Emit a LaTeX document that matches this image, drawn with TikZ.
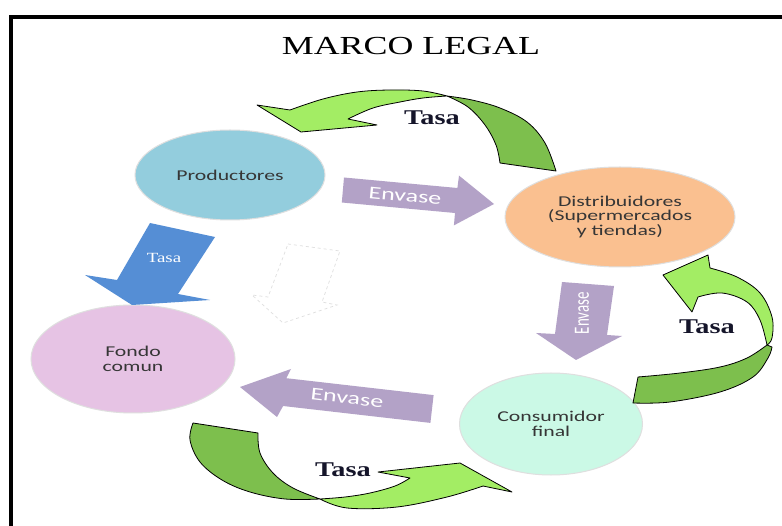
\documentclass[tikz,border=0pt]{standalone}
\usepackage{fontspec}
\setmainfont{Liberation Serif}
\newfontfamily\labfont[FakeStretch=1.45]{Carlito}
\newfontfamily\vertfont{Carlito}
\newfontfamily\titlefont[FakeStretch=1.38]{Liberation Serif}
\newfontfamily\tasafont[FakeStretch=1.35]{Liberation Serif}
\usetikzlibrary{shapes.geometric}
\definecolor{cProd}{HTML}{93CDDD}
\definecolor{cDist}{HTML}{FAC090}
\definecolor{cFondo}{HTML}{E6C3E4}
\definecolor{cCons}{HTML}{CBF9E6}
\definecolor{cPurp}{HTML}{B3A2C7}
\definecolor{cBlue}{HTML}{558ED5}
\definecolor{cLight}{HTML}{A3ED64}
\definecolor{cDark}{HTML}{7DBF4D}
\definecolor{cText}{HTML}{363636}
\definecolor{cTasa}{HTML}{15152A}
\begin{document}
\begin{tikzpicture}[x=1pt,y=-1pt,
  bubble/.style={ellipse, draw=gray!25, line width=1pt, inner sep=0pt, align=center,
    text=cText, font=\labfont\fontsize{15}{14.5}\selectfont},
  purparrow/.style={fill=cPurp},
  envlabel/.style={text=white, inner sep=0pt, font=\labfont\fontsize{18}{18}\selectfont},
  lightpart/.style={fill=cLight, draw=black, line width=0.8pt, line join=round},
  darkpart/.style={fill=cDark, draw=black, line width=0.8pt, line join=round},
  tasalabel/.style={text=cTasa, inner sep=0pt, font=\tasafont\bfseries\fontsize{21}{21}\selectfont}]
\useasboundingbox (0,0) rectangle (782,526);
\fill[white] (0,0) rectangle (782,526);
% frame
\draw[line width=4.5pt] (11,560) -- (11,17) -- (800,17);
% title
\node[inner sep=0pt, font=\titlefont\fontsize{26}{26}\selectfont] (title) at (411,46) {MARCO LEGAL};

% ellipses
\node[bubble, fill=cProd, minimum width=190pt, minimum height=90pt] (prod) at (230,175) {Productores};
\node[bubble, fill=cDist, minimum width=230pt, minimum height=100pt] (dist) at (620,217) {Distribuidores\\(Supermercados\\y tiendas)};
\node[bubble, fill=cFondo, minimum width=204pt, minimum height=108pt] (fondo) at (133,359) {Fondo\\comun};
\node[bubble, fill=cCons, minimum width=183pt, minimum height=102pt] (cons) at (551,424) {Consumidor\\final};

% purple Envase arrows
\fill[purparrow] (344,177.5) -- (457.4,188) -- (459,175.6) -- (494,204) -- (453.9,225.4) -- (455,213) -- (341.8,202.5) -- cycle;
\node[envlabel, rotate=-5.3] (env1) at (405,196) {Envase};

\fill[purparrow] (562,282) -- (614,286) -- (607,335) -- (622,336) -- (576,360) -- (536,333) -- (555,334) -- cycle;
\node[text=white, inner sep=0pt, rotate=90, font=\vertfont\fontsize{15}{15}\selectfont] (env2) at (582,313) {\scalebox{1}[1.45]{Envase}};

\fill[purparrow] (433.6,395.1) -- (286.3,378.2) -- (291,369) -- (240,387) -- (277,417) -- (283.1,406) -- (430.4,422.9) -- cycle;
\node[envlabel, rotate=-6.5] (env3) at (347,398) {Envase};

% blue Tasa arrow
\fill[cBlue] (150,223) -- (215,237) -- (178,294) -- (210,300) -- (132,305) -- (85,275) -- (117,280) -- cycle;
\node[text=white, inner sep=0pt, font=\tasafont\fontsize{14}{14}\selectfont] (tasab) at (164,258) {Tasa};

% dashed empty arrow
\draw[gray!25, dashed, line width=0.7pt, fill=white] (288,244) -- (340,251) -- (322,302) -- (337,305) -- (283,323) -- (252,295) -- (268,297) -- cycle;

% top green arrow
\filldraw[lightpart] (257,105) -- (290,110)
  -- plot[smooth, tension=0.6] coordinates {(290,110) (323,99) (357,92) (390,90) (423,91) (447,96)}
  -- plot[smooth, tension=0.6] coordinates {(447,96) (423,98) (400,102) (373,108) (348,119)}
  -- (377,125) -- (301,132) -- cycle;
\filldraw[darkpart] (447,96)
  -- plot[smooth, tension=0.6] coordinates {(447,96) (472,100) (500,108) (527,122) (545,143) (556,171)}
  -- (500,163)
  -- plot[smooth, tension=0.6] coordinates {(500,163) (496,145) (485,125) (468,107) (447,96)} -- cycle;
\node[tasalabel] (tasa1) at (432,118) {Tasa};

% right green arrow
\filldraw[lightpart] (663,275) -- (708,255) -- (710,268)
  -- plot[smooth, tension=0.6] coordinates {(710,268) (737,277) (760,293) (772,317) (772,338) (767,345)}
  -- plot[smooth, tension=0.6] coordinates {(767,345) (760,320) (747,302) (722,293) (698,297)}
  -- (692,312) -- cycle;
\filldraw[darkpart] (767,345)
  -- plot[smooth, tension=0.6] coordinates {(767,345) (747,358) (720,367) (680,373) (638,377)}
  -- (633,403)
  -- plot[smooth, tension=0.6] coordinates {(633,403) (670,402) (720,392) (753,377) (768,358) (772,347)} -- cycle;
\node[tasalabel] (tasa2) at (707,327) {Tasa};

% bottom green arrow
\filldraw[lightpart] (320,499)
  -- plot[smooth, tension=0.6] coordinates {(320,499) (345,497) (370,493) (395,486) (410,478)}
  -- (378,472) -- (460,463) -- (512,492) -- (483,486)
  -- plot[smooth, tension=0.6] coordinates {(483,486) (447,497) (397,507) (347,508) (320,499)} -- cycle;
\filldraw[darkpart] (320,499)
  -- plot[smooth, tension=0.6] coordinates {(320,499) (293,488) (273,473) (260,453) (258,433)}
  -- (193,423)
  -- plot[smooth, tension=0.6] coordinates {(193,423) (190,440) (200,462) (222,480) (250,492) (285,499) (320,499)} -- cycle;
\node[tasalabel] (tasa3) at (343,470) {Tasa};
\end{tikzpicture}
\end{document}
